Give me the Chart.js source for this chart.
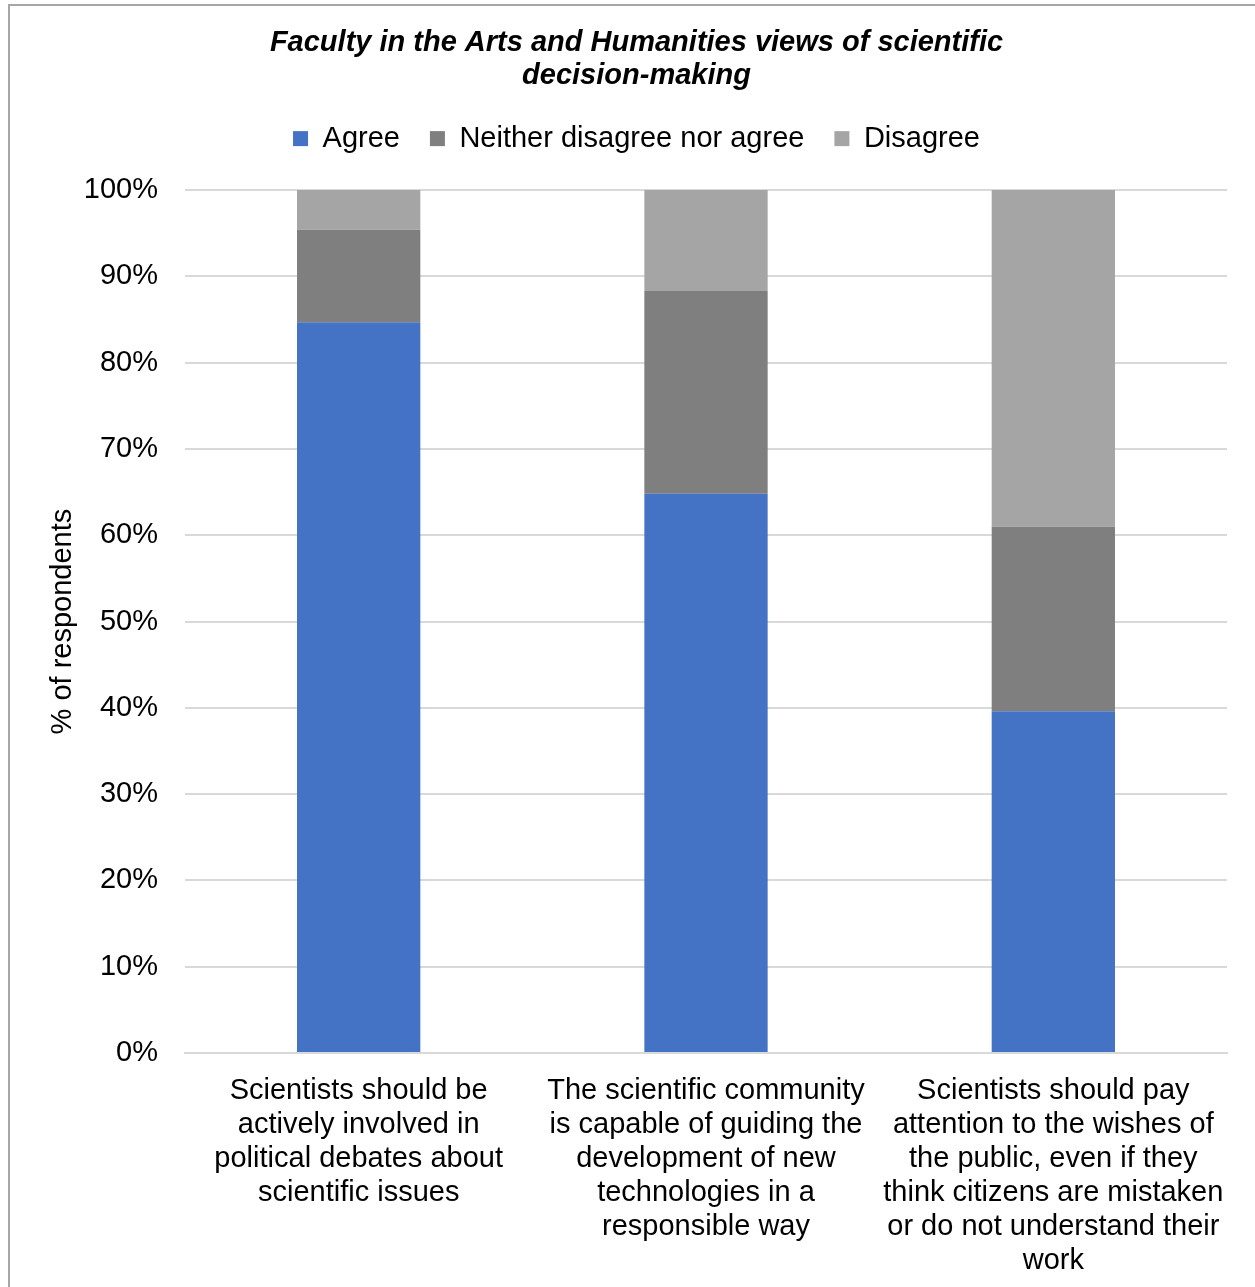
<!DOCTYPE html>
<html>
<head>
<meta charset="utf-8">
<script src="https://cdn.jsdelivr.net/npm/chart.js@4.4.1/dist/chart.umd.min.js"></script>
<style>
  body { margin: 0; background: #fff; }
  canvas { display: block; }
</style>
</head>
<body>
<canvas id="chart" width="1255" height="1287"></canvas>
<script>
// data (percent of respondents)
const categories = [
    ["Scientists should be", "actively involved in", "political debates about", "scientific issues"],
    ["The scientific community", "is capable of guiding the", "development of new", "technologies in a", "responsible way"],
    ["Scientists should pay", "attention to the wishes of", "the public, even if they", "think citizens are mistaken", "or do not understand their", "work"]
];
const agree = [84.7, 64.8, 39.6];
const neither = [10.7, 23.5, 21.4];
const disagree = [4.6, 11.7, 39.0];
const yTicks = [0, 10, 20, 30, 40, 50, 60, 70, 80, 90, 100];

const font = "'Liberation Sans', Arial, sans-serif";

// grey frame around the whole chart
const framePlugin = {
    id: "frame",
    beforeDraw(chart) {
        const ctx = chart.ctx;
        ctx.save();
        ctx.fillStyle = "#fff";
        ctx.fillRect(0, 0, chart.width, chart.height);
        ctx.strokeStyle = "#a6a6a6";
        ctx.lineWidth = 2;
        ctx.strokeRect(9, 5, chart.width + 20, chart.height + 20);
        ctx.restore();
    }
};

// extra room under the legend, like the original
const legendGap = {
    id: "legendGap",
    beforeLayout(chart) {
        const legend = chart.legend;
        if (legend && !legend._gapped) {
            const fit = legend.fit;
            legend.fit = function() {
                fit.call(this);
                this.height += 27;
            };
            legend._gapped = true;
        }
    }
};

new Chart("chart", {
    type: "bar",
    data: {
        labels: categories,
        datasets: [{
            label: "Agree",
            data: agree,
            backgroundColor: "#4472c4"
        }, {
            label: "Neither disagree nor agree",
            data: neither,
            backgroundColor: "#7f7f7f"
        }, {
            label: "Disagree",
            data: disagree,
            backgroundColor: "#a5a5a5"
        }]
    },
    options: {
        responsive: false,
        animation: false,
        layout: { padding: { left: 46, right: 28, top: 10, bottom: 0 } },
        datasets: {
            bar: { categoryPercentage: 1, barPercentage: 0.355 }
        },
        plugins: {
            title: {
                display: true,
                text: ["Faculty in the Arts and Humanities views of scientific", "decision-making"],
                color: "#000",
                font: { family: font, size: 29, weight: "bold", style: "italic", lineHeight: 1.14 },
                padding: { top: 16, bottom: 2 }
            },
            legend: {
                display: true,
                labels: {
                    color: "#000",
                    font: { family: font, size: 29 },
                    boxWidth: 15,
                    boxHeight: 15,
                    padding: 30
                }
            },
            tooltip: { enabled: false }
        },
        scales: {
            x: {
                stacked: true,
                grid: { display: false },
                border: { display: true, color: "#d9d9d9", width: 2 },
                ticks: {
                    color: "#000",
                    font: { family: font, size: 29, lineHeight: 1.17 },
                    maxRotation: 0,
                    autoSkip: false,
                    padding: 13
                },
                afterFit(scale) { scale.height = 234; }
            },
            y: {
                stacked: true,
                min: 0,
                max: 100,
                afterBuildTicks(scale) { scale.ticks = yTicks.map(v => ({ value: v })); },
                grid: { color: "#d9d9d9", lineWidth: 2, drawTicks: false },
                border: { display: false },
                ticks: {
                    color: "#000",
                    font: { family: font, size: 29 },
                    padding: 27,
                    callback: v => v + "%"
                },
                title: {
                    display: true,
                    text: "% of respondents",
                    color: "#000",
                    font: { family: font, size: 29 },
                    padding: { top: 0 }
                },
                afterFit(scale) { scale.width = 139; }
            }
        }
    },
    plugins: [framePlugin, legendGap]
});
</script>
</body>
</html>
